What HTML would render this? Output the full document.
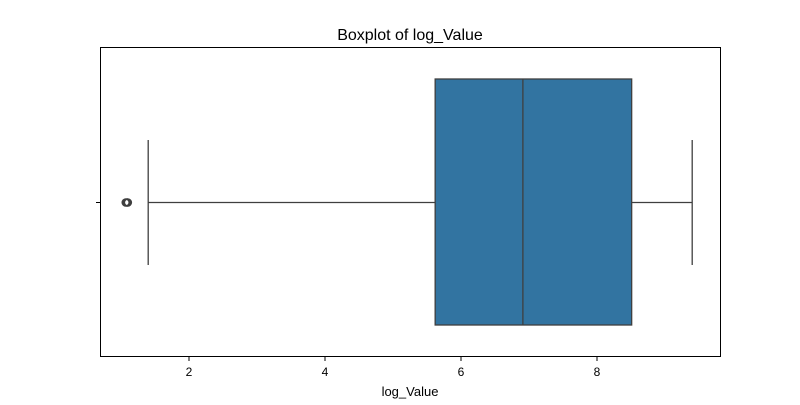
<!DOCTYPE html>
<html><head><meta charset="utf-8"><style>body{margin:0;background:#fff}svg{font-family:"Liberation Sans","DejaVu Sans",sans-serif}</style></head>
<body>
<svg id="chart" width="800" height="400" viewBox="0 0 800 400" xmlns="http://www.w3.org/2000/svg">
<rect x="0" y="0" width="800" height="400" fill="#fff"/>
<text x="410" y="40" text-anchor="middle" font-size="16" fill="#000">Boxplot of log_Value</text>
<g id="plot"></g>
<rect x="100.5" y="47.5" width="620" height="309" fill="none" stroke="#000" stroke-width="1"/>
<line x1="96" y1="202.5" x2="100" y2="202.5" stroke="#000"/>
<text x="410" y="396" text-anchor="middle" font-size="13" fill="#000">log_Value</text>
</svg>
<script>
const xTicks = [2, 4, 6, 8];
const stats = [1.40, 5.62, 6.91, 8.51, 9.40];
const outliers = [1.07, 1.09, 1.10];
const svgNS = "http://www.w3.org/2000/svg";
const g = document.getElementById('plot');
const X = v => 53 + v * 68;
function mk(tag, attrs, parent) {
  const e = document.createElementNS(svgNS, tag);
  for (const k in attrs) e.setAttribute(k, attrs[k]);
  (parent || g).appendChild(e);
  return e;
}
xTicks.forEach(t => {
  const l = mk('line', {x1: X(t), x2: X(t), y1: 357, y2: 361, stroke: '#000'});
  
  
  const tx = mk('text', {x: X(t), y: 376, 'text-anchor': 'middle', 'font-size': 12, fill: '#000'});
  tx.textContent = t;
  
  
});
const [lo, q1, med, q3, hi] = stats;
const c = 202.5, st = '#3f3f3f';
const w1 = mk('line', {x1: X(lo), x2: X(q1), y1: c, y2: c, stroke: st, 'stroke-width': 1.3});


const w2 = mk('line', {x1: X(q3), x2: X(hi), y1: c, y2: c, stroke: st, 'stroke-width': 1.3});


const c1 = mk('line', {x1: X(lo), x2: X(lo), y1: 140, y2: 265, stroke: st, 'stroke-width': 1.3});


const c2 = mk('line', {x1: X(hi), x2: X(hi), y1: 140, y2: 265, stroke: st, 'stroke-width': 1.3});


const box = mk('rect', {x: X(q1), y: 79, width: X(q3) - X(q1), height: 246, fill: '#3274a1', stroke: st, 'stroke-width': 1.3});


const m = mk('line', {x1: X(med), x2: X(med), y1: 79, y2: 325, stroke: st, 'stroke-width': 1.3});


outliers.forEach(o => {
  const p = mk('circle', {cx: X(o), cy: c, r: 3.5, fill: 'none', stroke: st, 'stroke-width': 1.6});
  
  
});
</script>
</body></html>
